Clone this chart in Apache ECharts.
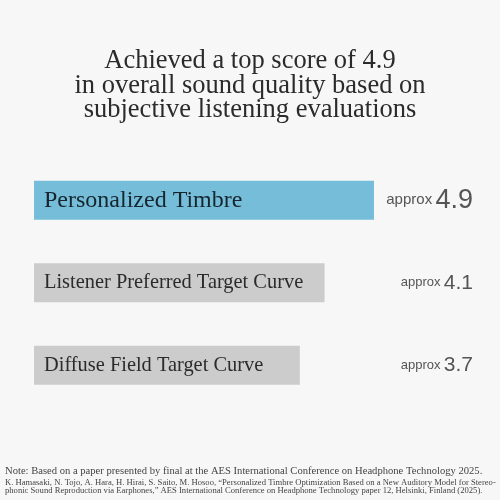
<!DOCTYPE html>
<html>
<head>
<meta charset="utf-8">
<script src="https://cdn.jsdelivr.net/npm/echarts@6/dist/echarts.min.js"></script>
<style>
  html, body { margin: 0; padding: 0; background: #f7f7f7; }
  #chart { width: 500px; height: 500px; }
</style>
</head>
<body>
<div id="chart"></div>
<script>
const categories = [
  "Personalized Timbre",
  "Listener Preferred Target Curve",
  "Diffuse Field Target Curve",
];
const scores = [4.9, 4.1, 3.7];
const barColors = ["#76bdd9", "#cccccc", "#cccccc"];

// bars in the source start a bit left of zero
const axisMin = -0.6;
const axisMax = 4.9;

const chart = echarts.init(document.getElementById("chart"));

chart.setOption({
  backgroundColor: "#f7f7f7",
  animation: false,
  title: [
    {
      text: "Achieved a top score of 4.9\nin overall sound quality based on\nsubjective listening evaluations",
      left: "center",
      top: 44,
      textStyle: {
        fontFamily: "Liberation Serif",
        fontWeight: "normal",
        fontSize: 26.5,
        lineHeight: 24.5,
        color: "#2b2b2b",
        align: "center",
      },
    },
    {
      text: "Note: Based on a paper presented by final at the AES International Conference on Headphone Technology 2025.",
      left: 5,
      top: 466,
      padding: 0,
      textStyle: {
        fontFamily: "Liberation Serif",
        fontWeight: "normal",
        fontSize: 10.6,
        color: "#444",
      },
    },
    {
      text: "K. Hamasaki, N. Tojo, A. Hara, H. Hirai, S. Saito, M. Hosoo, \u201cPersonalized Timbre Optimization Based on a New Auditory Model for Stereo-\nphonic Sound Reproduction via Earphones,\u201d AES International Conference on Headphone Technology paper 12, Helsinki, Finland (2025).",
      left: 5,
      top: 478,
      padding: 0,
      textStyle: {
        fontFamily: "Liberation Serif",
        fontWeight: "normal",
        fontSize: 8.6,
        lineHeight: 8.8,
        color: "#444",
      },
    },
  ],
  grid: {
    left: 34,
    right: 126,
    top: 159,
    height: 247.5,
  },
  xAxis: {
    type: "value",
    min: axisMin,
    max: axisMax,
    show: false,
  },
  yAxis: [
    {
      type: "category",
      data: categories,
      inverse: true,
      position: "left",
      z: 10,
      axisLine: { show: false },
      axisTick: { show: false },
      axisLabel: {
        inside: true,
        margin: 10,
        formatter: (value, index) =>
          index === 0 ? "{top|" + value + "}" : "{rest|" + value + "}",
        rich: {
          top: { fontFamily: "Liberation Serif", fontSize: 24, color: "#15262f" },
          rest: { fontFamily: "Liberation Serif", fontSize: 20.4, color: "#2b2b2b" },
        },
      },
    },
    {
      type: "category",
      data: categories,
      inverse: true,
      position: "right",
      axisLine: { show: false },
      axisTick: { show: false },
      axisLabel: {
        margin: 99,
        align: "right",
        formatter: (value, index) =>
          index === 0
            ? "{sa|approx} {big|" + scores[index] + "}"
            : "{s|approx} {mid|" + scores[index] + "}",
        rich: {
          sa: { fontFamily: "Liberation Sans", fontSize: 15, color: "#555" },
          s: { fontFamily: "Liberation Sans", fontSize: 13, color: "#555" },
          big: { fontFamily: "Liberation Sans", fontSize: 27, color: "#555" },
          mid: { fontFamily: "Liberation Sans", fontSize: 21, color: "#555" },
        },
      },
    },
  ],
  series: [
    {
      type: "custom",
      data: scores.map((v, i) => [v, i]),
      encode: { x: 0, y: 1 },
      renderItem: (params, api) => {
        const idx = api.value(1);
        const start = api.coord([axisMin, idx]);
        const end = api.coord([api.value(0), idx]);
        const h = api.size([0, 1])[1] * 0.47;
        return {
          type: "rect",
          shape: { x: start[0], y: start[1] - h / 2, width: end[0] - start[0], height: h },
          style: { fill: barColors[idx] },
        };
      },
    },
  ],
});
</script>
</body>
</html>
